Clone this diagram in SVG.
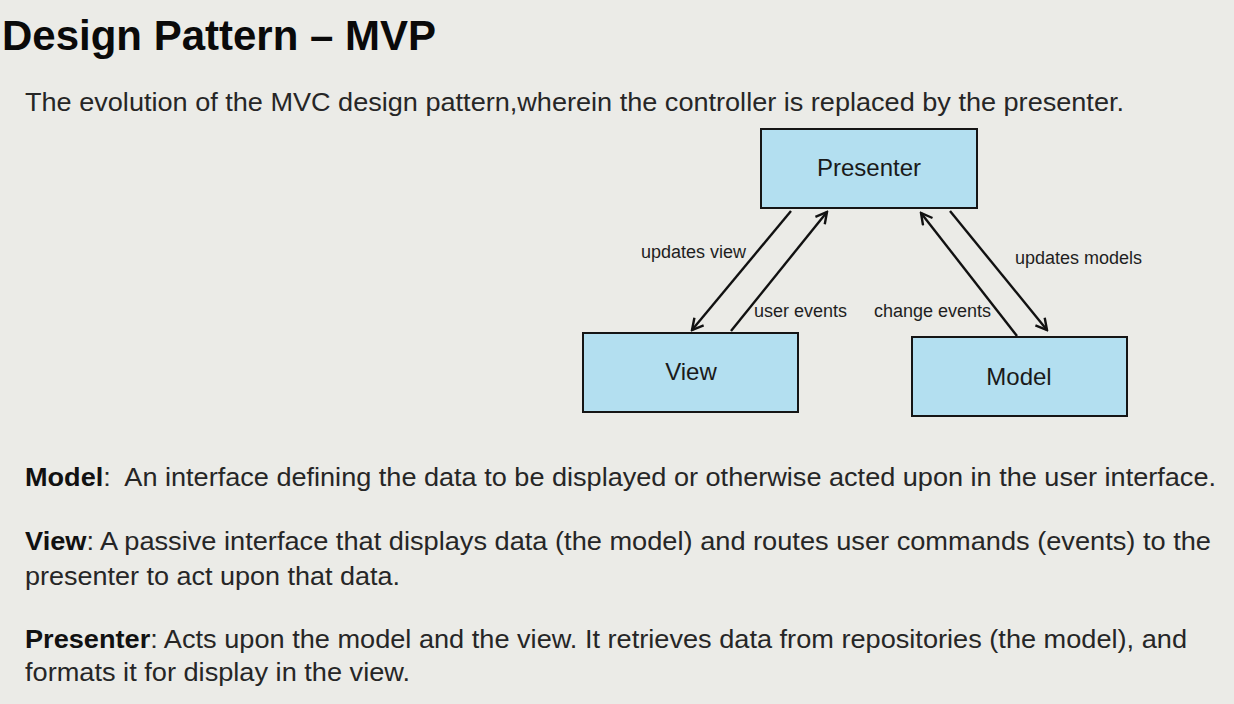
<svg xmlns="http://www.w3.org/2000/svg" width="1234" height="704" viewBox="0 0 1234 704">
<defs>
<marker id="arr" viewBox="0 0 14 14" refX="12" refY="7" markerWidth="14" markerHeight="14" markerUnits="userSpaceOnUse" orient="auto">
<path d="M1,1 L12,7 L1,13" fill="none" stroke="#111" stroke-width="2.4"/>
</marker>
</defs>
<style>
.bg{fill:#ebebe7}
.box{fill:#b3dff0;stroke:#151515;stroke-width:2}
.bl{font-family:"Liberation Sans",Arial,sans-serif;font-size:24px;fill:#1a1a1a;text-anchor:middle}
.el{font-family:"Liberation Sans",Arial,sans-serif;font-size:18px;fill:#1e1e1e}
.body{font-family:"Liberation Sans",Arial,sans-serif;font-size:26px;fill:#262626}
.b{font-weight:bold;fill:#111}
.title{font-family:"Liberation Sans",Arial,sans-serif;font-size:43px;font-weight:bold;fill:#0a0a0a}
.conn line{stroke:#111;stroke-width:2.4;marker-end:url(#arr)}
</style>
<rect class="bg" x="0" y="0" width="1234" height="704"/>
<text class="title" x="2" y="50" textLength="434" lengthAdjust="spacingAndGlyphs">Design Pattern – MVP</text>
<text class="body" x="25" y="111" font-size="25" textLength="1099" lengthAdjust="spacingAndGlyphs">The evolution of the MVC design pattern,wherein the controller is replaced by the presenter.</text>

<g id="presenter">
<rect class="box" x="761" y="129" width="216" height="79"/>
<text class="bl" x="869" y="176">Presenter</text>
</g>
<g id="view">
<rect class="box" x="583" y="333" width="215" height="79"/>
<text class="bl" x="691" y="380">View</text>
</g>
<g id="model">
<rect class="box" x="912" y="337" width="215" height="79"/>
<text class="bl" x="1019" y="385">Model</text>
</g>

<g id="connectors" class="conn">
<line x1="791" y1="211" x2="692" y2="330"/>
<line x1="731" y1="331" x2="827" y2="212"/>
<line x1="1017" y1="336" x2="921" y2="213"/>
<line x1="950" y1="211" x2="1047" y2="330"/>
</g>
<g id="labels">
<text class="el" x="641" y="258">updates view</text>
<text class="el" x="754" y="317">user events</text>
<text class="el" x="874" y="317">change events</text>
<text class="el" x="1015" y="264">updates models</text>
</g>

<text class="body" x="25" y="486" textLength="1191" lengthAdjust="spacingAndGlyphs" xml:space="preserve"><tspan class="b">Model</tspan>:  An interface defining the data to be displayed or otherwise acted upon in the user interface.</text>
<text class="body" x="25" y="550" textLength="1186" lengthAdjust="spacingAndGlyphs"><tspan class="b">View</tspan>: A passive interface that displays data (the model) and routes user commands (events) to the</text>
<text class="body" x="25" y="585" textLength="375" lengthAdjust="spacingAndGlyphs">presenter to act upon that data.</text>
<text class="body" x="25" y="648" textLength="1162" lengthAdjust="spacingAndGlyphs"><tspan class="b">Presenter</tspan>: Acts upon the model and the view. It retrieves data from repositories (the model), and</text>
<text class="body" x="25" y="681" textLength="385" lengthAdjust="spacingAndGlyphs">formats it for display in the view.</text>
</svg>
